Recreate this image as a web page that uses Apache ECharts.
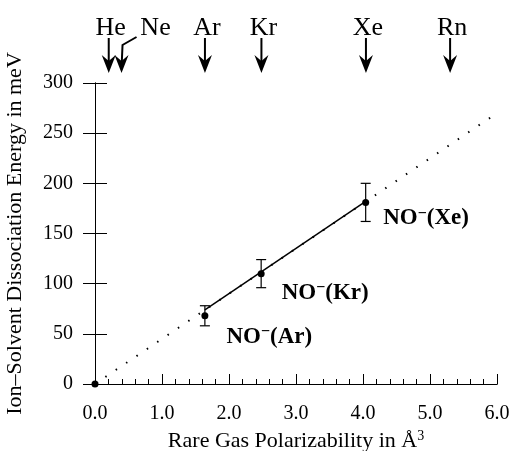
<!DOCTYPE html>
<html>
<head>
<meta charset="utf-8">
<script src="https://cdn.jsdelivr.net/npm/echarts@6/dist/echarts.min.js"></script>
<style>
  html, body { margin: 0; padding: 0; background: #fff; }
  #chart { width: 512px; height: 451px; }
</style>
</head>
<body>
<div id="chart"></div>
<script>
  // rare gas polarizabilities (A^3) marked with arrows on top
  var gasNames = ['He', 'Ne', 'Ar', 'Kr', 'Xe', 'Rn']
  var gasPolar = [0.205, 0.396, 1.641, 2.484, 4.044, 5.3]

  // measured dissociation energies
  var pointNames = ['', 'Ar', 'Kr', 'Xe']
  var pointX = [0, 1.64, 2.48, 4.04]
  var pointY = [0, 68, 110, 181]
  var errLow = [null, 58, 96, 162]
  var errHigh = [null, 78, 124, 200]

  // linear fit through the data
  var fitX = [0, 1.64, 4.04, 6]
  var fitY = [0, 74, 182, 270]

  var xTicks = ['0.0', '1.0', '2.0', '3.0', '4.0', '5.0', '6.0']
  var yMax = 300

  var font = 'Liberation Serif'
  var chart = echarts.init(document.getElementById('chart'))

  var points = pointX.map(function (x, i) { return [x, pointY[i]] })
  var errs = []
  pointX.forEach(function (x, i) {
    if (errLow[i] != null) errs.push([x, errLow[i], errHigh[i]])
  })
  // label offsets for NO-(Rg) texts
  var labelOffsets = [[0, 0], [13, 21], [12, 19], [9, 16]]
  var pointData = points.map(function (p, i) {
    var item = { value: p }
    if (pointNames[i]) {
      item.label = {
        show: true,
        position: 'right',
        offset: labelOffsets[i],
        formatter: 'NO{s|−}(' + pointNames[i] + ')'
      }
    }
    return item
  })

  var tickStyle = { color: '#000', width: 1 }

  chart.setOption({
    animation: false,
    grid: { left: 95, right: 15, top: 83, bottom: 67, containLabel: false, outerBoundsMode: 'none' },
    xAxis: [{
      type: 'value',
      position: 'bottom',
      min: 0,
      max: 6,
      interval: 1,
      name: 'Rare Gas Polarizability in Å{sup|3}',
      nameLocation: 'middle',
      nameGap: 44,
      nameTextStyle: {
        fontFamily: font, fontSize: 22, color: '#000',
        rich: { sup: { fontFamily: font, fontSize: 14, color: '#000', padding: [0, 0, 11, 0] } }
      },
      axisLine: { lineStyle: tickStyle },
      axisTick: { inside: true, length: 9, lineStyle: tickStyle },
      minorTick: { show: true, splitNumber: 5, length: 5, lineStyle: tickStyle },
      splitLine: { show: false },
      axisLabel: {
        margin: 20,
        fontFamily: font, fontSize: 20, color: '#000',
        formatter: function (v) { return xTicks[Math.round(v)] }
      }
    }, {
      type: 'value',
      position: 'top',
      min: 0,
      max: 6,
      interval: 1,
      axisLine: { lineStyle: tickStyle },
      axisTick: { length: 10, lineStyle: tickStyle },
      minorTick: { show: true, splitNumber: 5, length: 5, lineStyle: tickStyle },
      splitLine: { show: false },
      axisLabel: { show: false }
    }],
    yAxis: [{
      type: 'value',
      position: 'left',
      min: 0,
      max: yMax,
      interval: 50,
      name: 'Ion–Solvent Dissociation Energy in meV',
      nameLocation: 'middle',
      nameGap: 69,
      nameTextStyle: { fontFamily: font, fontSize: 22, color: '#000' },
      axisLine: { lineStyle: tickStyle },
      axisTick: { length: 12, lineStyle: tickStyle },
      splitLine: { show: false },
      axisLabel: { margin: 22, fontFamily: font, fontSize: 20, color: '#000' }
    }, {
      type: 'value',
      position: 'right',
      min: 0,
      max: yMax,
      interval: 50,
      axisLine: { lineStyle: tickStyle },
      axisTick: { length: 12, lineStyle: tickStyle },
      splitLine: { show: false },
      axisLabel: { show: false }
    }],
    series: [
      {
        // dotted extrapolation of the fit
        type: 'line',
        data: [[fitX[0], fitY[0]], [fitX[3], fitY[3]]],
        symbol: 'none',
        lineStyle: { color: '#000', width: 2, type: [1.5, 11] },
        z: 1
      },
      {
        type: 'line',
        data: [[fitX[1], fitY[1]], [fitX[2], fitY[2]]],
        symbol: 'none',
        lineStyle: { color: '#000', width: 1.5 },
        z: 2
      },
      {
        // error bars
        type: 'custom',
        data: errs,
        renderItem: function (params, api) {
          var lo = api.coord([api.value(0), api.value(1)])
          var hi = api.coord([api.value(0), api.value(2)])
          var w = 5
          var st = { stroke: '#000', lineWidth: 1.2 }
          return {
            type: 'group',
            children: [
              { type: 'line', shape: { x1: lo[0], y1: lo[1], x2: hi[0], y2: hi[1] }, style: st },
              { type: 'line', shape: { x1: lo[0] - w, y1: lo[1], x2: lo[0] + w, y2: lo[1] }, style: st },
              { type: 'line', shape: { x1: hi[0] - w, y1: hi[1], x2: hi[0] + w, y2: hi[1] }, style: st }
            ]
          }
        },
        z: 3
      },
      {
        type: 'scatter',
        data: pointData,
        symbol: 'circle',
        symbolSize: 7,
        itemStyle: { color: '#000', opacity: 1 },
        label: {
          fontFamily: font, fontSize: 23, fontWeight: 'bold', color: '#000',
          rich: { s: { fontFamily: font, fontSize: 16, fontWeight: 'bold', color: '#000', padding: [0, 0, 10, 0] } }
        },
        z: 4
      },
      {
        // arrows for the rare gases above the plot
        type: 'custom',
        data: gasPolar.map(function (x) { return [x] }),
        dimensions: ['x'],
        encode: { x: 0 },
        clip: false,
        silent: true,
        renderItem: function (params, api) {
          var p = api.coord([api.value(0), yMax])
          var name = gasNames[params.dataIndex]
          var tipY = p[1] - 10
          var headH = 18
          var st = { stroke: '#000', lineWidth: 2 }
          var shaft
          var tx = p[0] + 2
          if (name === 'Ne') {
            shaft = { type: 'polyline', shape: { points: [[p[0], tipY - 5], [p[0] + 1, p[1] - 38], [p[0] + 15, p[1] - 46]] }, style: { stroke: '#000', lineWidth: 2, fill: null } }
            tx = p[0] + 34
          } else {
            shaft = { type: 'line', shape: { x1: p[0], y1: tipY - 5, x2: p[0], y2: p[1] - 45 }, style: st }
          }
          return {
            type: 'group',
            children: [
              shaft,
              {
                type: 'polygon',
                shape: { points: [[p[0], tipY], [p[0] - 7, tipY - headH], [p[0], tipY - headH + 6], [p[0] + 7, tipY - headH]] },
                style: { fill: '#000' }
              },
              {
                type: 'text',
                x: tx,
                y: p[1] - 42,
                style: {
                  text: name, fontFamily: font, fontSize: 26, fill: '#000',
                  align: 'center', verticalAlign: 'bottom'
                }
              }
            ]
          }
        },
        z: 5
      }
    ]
  })
</script>
</body>
</html>
